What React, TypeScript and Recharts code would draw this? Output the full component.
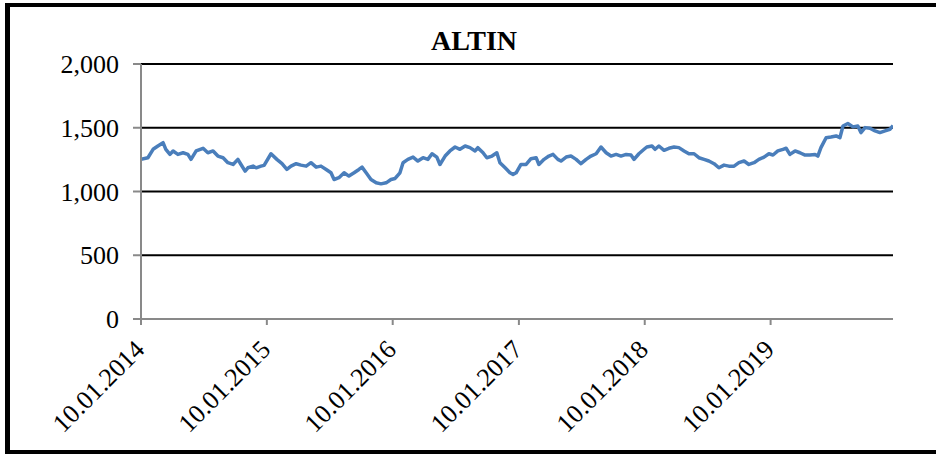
import React from "react";
import { LineChart, Line, XAxis, YAxis, CartesianGrid } from "recharts";

const dates = [
  "2014-01-10","2014-01-30","2014-02-14","2014-02-28","2014-03-15","2014-03-23","2014-04-04","2014-04-13","2014-04-27","2014-05-12",
  "2014-05-26","2014-06-04","2014-06-19","2014-07-09","2014-07-23","2014-08-07","2014-08-21","2014-09-05","2014-09-19","2014-10-04",
  "2014-10-18","2014-10-27","2014-11-08","2014-11-16","2014-12-01","2014-12-10","2014-12-24","2015-01-02","2015-01-22","2015-02-08",
  "2015-02-23","2015-03-09","2015-03-21","2015-04-05","2015-04-19","2015-05-04","2015-05-18","2015-06-02","2015-06-16","2015-07-01",
  "2015-07-15","2015-07-24","2015-08-07","2015-08-22","2015-09-05","2015-09-20","2015-10-04","2015-10-13","2015-10-25","2015-11-08",
  "2015-11-23","2015-12-07","2015-12-22","2016-01-05","2016-01-17","2016-01-31","2016-02-09","2016-02-23","2016-03-09","2016-03-23",
  "2016-04-07","2016-04-21","2016-05-03","2016-05-17","2016-05-26","2016-06-10","2016-06-24","2016-07-09","2016-07-23","2016-08-07",
  "2016-08-21","2016-09-05","2016-09-13","2016-09-28","2016-10-09","2016-10-24","2016-11-07","2016-11-16","2016-12-01","2016-12-15",
  "2016-12-24","2017-01-02","2017-01-16","2017-01-31","2017-02-14","2017-03-01","2017-03-09","2017-03-24","2017-04-07","2017-04-19",
  "2017-05-03","2017-05-12","2017-05-27","2017-06-10","2017-06-25","2017-07-09","2017-07-24","2017-08-07","2017-08-22","2017-09-05",
  "2017-09-20","2017-10-04","2017-10-19","2017-11-02","2017-11-17","2017-12-01","2017-12-10","2017-12-24","2018-01-08","2018-01-16",
  "2018-01-31","2018-02-09","2018-02-20","2018-03-07","2018-03-21","2018-04-05","2018-04-19","2018-05-04","2018-05-18","2018-06-02",
  "2018-06-16","2018-07-01","2018-07-15","2018-07-30","2018-08-13","2018-08-28","2018-09-11","2018-09-26","2018-10-10","2018-10-25",
  "2018-11-08","2018-11-23","2018-12-07","2018-12-22","2019-01-05","2019-01-17","2019-01-31","2019-02-15","2019-02-24","2019-03-07",
  "2019-03-22","2019-04-05","2019-04-20","2019-05-04","2019-05-19","2019-05-27","2019-06-05","2019-06-20","2019-07-04","2019-07-19",
  "2019-07-30","2019-08-08","2019-08-22","2019-09-06","2019-09-20","2019-09-29","2019-10-11","2019-10-25","2019-11-09","2019-11-23",
  "2019-12-08","2019-12-22","2019-12-31",
];

const prices = [
  1252,1265,1331,1357,1383,1331,1291,1318,1291,1304,
  1291,1252,1318,1339,1304,1318,1278,1265,1226,1212,
  1252,1212,1160,1186,1199,1186,1199,1205,1296,1252,
  1218,1173,1199,1218,1207,1199,1226,1191,1199,1173,
  1147,1094,1108,1147,1121,1147,1173,1191,1147,1094,
  1068,1060,1068,1094,1102,1147,1226,1252,1270,1239,
  1265,1252,1296,1270,1212,1278,1318,1349,1331,1357,
  1344,1318,1344,1304,1265,1278,1304,1226,1186,1147,
  1134,1147,1212,1212,1257,1265,1212,1252,1278,1291,
  1252,1239,1270,1278,1252,1218,1252,1278,1296,1349,
  1304,1278,1291,1278,1291,1286,1252,1296,1331,1349,
  1357,1331,1357,1323,1339,1349,1344,1318,1296,1296,
  1265,1252,1239,1218,1186,1207,1199,1199,1226,1239,
  1212,1226,1252,1270,1296,1286,1318,1331,1339,1291,
  1318,1304,1286,1286,1291,1278,1344,1422,1428,1436,
  1422,1514,1533,1507,1514,1462,1501,1496,1475,1462,
  1475,1488,1517,
];

const xTickDates = ["2014-01-10","2015-01-10","2016-01-10","2017-01-10","2018-01-10","2019-01-10"];
const yTicks = [0, 500, 1000, 1500, 2000];
const domainStart = "2014-01-10";
const domainEnd = "2019-12-31";
const title = "ALTIN";

const toTime = (s: string) => {
  const [y, m, d] = s.split("-").map(Number);
  return Date.UTC(y, m - 1, d);
};

const data = dates.map((d, i) => ({ t: toTime(d), price: prices[i] }));

const pad = (n: number) => (n < 10 ? "0" + n : "" + n);
const fmtDate = (v: number) => {
  const dt = new Date(v);
  return `${pad(dt.getUTCDate())}.${pad(dt.getUTCMonth() + 1)}.${dt.getUTCFullYear()}`;
};
const fmtNum = (v: number) => v.toLocaleString("en-US");

const FONT = "'Liberation Serif', 'Times New Roman', serif";

const XTick = (props: any) => {
  const { x, y, payload } = props;
  const ax = 5;
  const ay = 24;
  return (
    <g transform={`translate(${x},${y})`}>
      <text
        x={ax}
        y={ay}
        transform={`rotate(-45 ${ax} ${ay})`}
        textAnchor="end"
        fontSize={26}
        fontFamily={FONT}
        fill="#000"
      >
        {fmtDate(payload.value)}
      </text>
    </g>
  );
};

export default function App() {
  return (
    <div style={{ position: "absolute", left: 0, top: 0, width: 936, height: 457, background: "#fff" }}>
      <LineChart
        width={936}
        height={457}
        data={data}
        margin={{ top: 64, right: 43, bottom: 0, left: 0 }}
      >
        <CartesianGrid vertical={false} stroke="#000" strokeWidth={2} />
        <XAxis
          dataKey="t"
          type="number"
          scale="time"
          domain={[toTime(domainStart), toTime(domainEnd)]}
          ticks={xTickDates.map(toTime)}
          tick={<XTick />}
          tickSize={6}
          height={138}
          axisLine={{ stroke: "#898989", strokeWidth: 2 }}
          tickLine={{ stroke: "#898989", strokeWidth: 2 }}
          interval={0}
          allowDataOverflow
        />
        <YAxis
          type="number"
          domain={[0, 2000]}
          ticks={yTicks}
          width={141}
          tickSize={8}
          tickMargin={14}
          tickFormatter={fmtNum}
          tick={{ fontSize: 26, fontFamily: FONT, fill: "#000" }}
          axisLine={{ stroke: "#898989", strokeWidth: 2 }}
          tickLine={{ stroke: "#898989", strokeWidth: 2 }}
          interval={0}
        />
        <Line
          type="linear"
          dataKey="price"
          stroke="#4A7EBB"
          strokeWidth={3.5}
          dot={false}
          activeDot={false}
          strokeLinejoin="round"
          isAnimationActive={false}
        />
      </LineChart>
      <div
        style={{
          position: "absolute",
          left: 0,
          right: 0,
          top: 23,
          textAlign: "center",
          paddingLeft: 12,
          fontFamily: FONT,
          fontWeight: "bold",
          fontSize: 28,
          lineHeight: "36px",
          color: "#000",
          pointerEvents: "none",
        }}
      >
        {title}
      </div>
      <div
        style={{
          position: "absolute",
          left: 5,
          top: 3,
          width: 931,
          height: 451,
          boxSizing: "border-box",
          borderLeft: "5px solid #000",
          borderTop: "4px solid #000",
          borderBottom: "4px solid #000",
          pointerEvents: "none",
        }}
      />
    </div>
  );
}
